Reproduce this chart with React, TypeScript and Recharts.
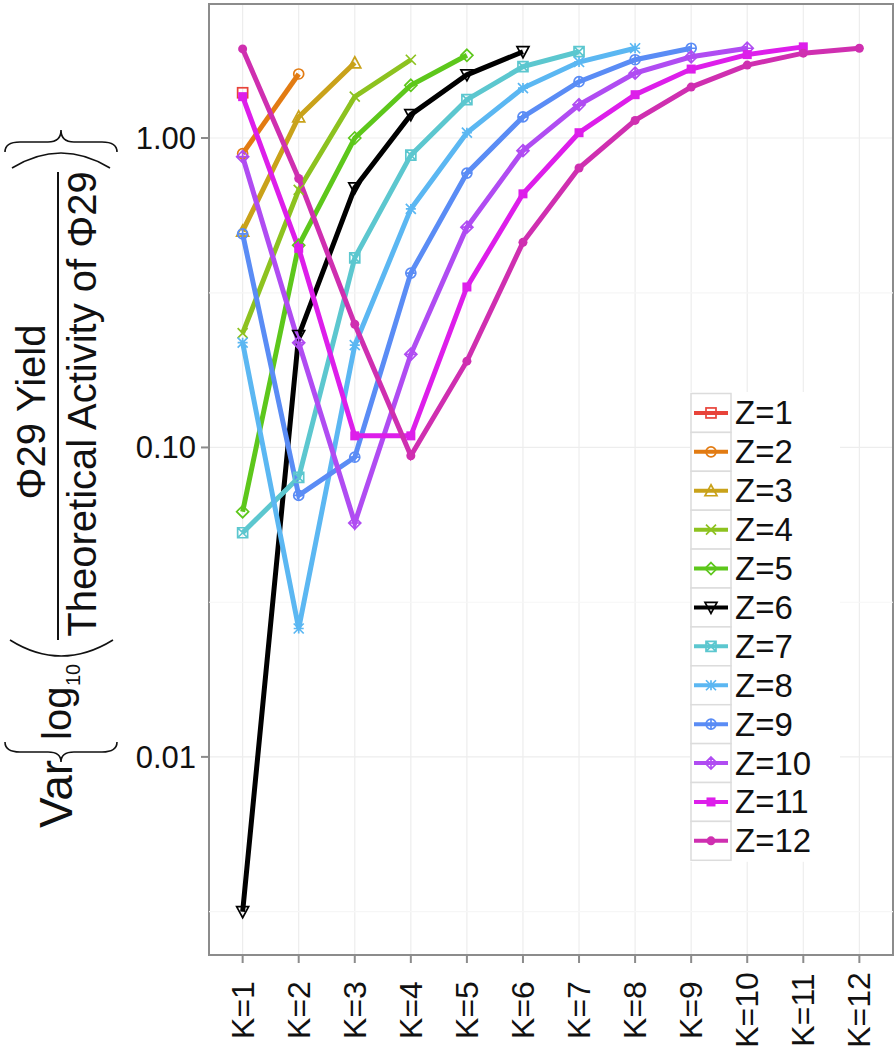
import {
  CartesianGrid,
  Legend,
  Line,
  LineChart,
  ReferenceArea,
  ReferenceLine,
  XAxis,
  YAxis,
} from "recharts";

const kValues = [1, 2, 3, 4, 5, 6, 7, 8, 9, 10, 11, 12];
const zNames = ["Z=1", "Z=2", "Z=3", "Z=4", "Z=5", "Z=6", "Z=7", "Z=8", "Z=9", "Z=10", "Z=11", "Z=12"];

// values by K=1..Z for each Z
const z1 = [1.4];
const z2 = [0.89, 1.61];
const z3 = [0.5, 1.17, 1.75];
const z4 = [0.234, 0.68, 1.36, 1.79];
const z5 = [0.062, 0.45, 1.0, 1.48, 1.85];
const z6 = [0.00316, 0.23, 0.69, 1.19, 1.6, 1.9];
const z7 = [0.053, 0.08, 0.41, 0.88, 1.33, 1.7, 1.9];
const z8 = [0.218, 0.026, 0.214, 0.59, 1.04, 1.45, 1.76, 1.95];
const z9 = [0.49, 0.07, 0.093, 0.366, 0.77, 1.17, 1.52, 1.79, 1.95];
const z10 = [0.87, 0.218, 0.057, 0.2, 0.515, 0.91, 1.28, 1.62, 1.83, 1.95];
const z11 = [1.36, 0.44, 0.109, 0.109, 0.33, 0.66, 1.04, 1.38, 1.67, 1.86, 1.97];
const z12 = [1.94, 0.74, 0.25, 0.094, 0.19, 0.46, 0.8, 1.14, 1.46, 1.72, 1.88, 1.95];
const series = [z1, z2, z3, z4, z5, z6, z7, z8, z9, z10, z11, z12];

const colors = [
  "#e8433a", "#e27b12", "#c9a21a", "#8dc21f", "#5dc71b", "#000000",
  "#5cc7cf", "#5bb7f2", "#5a8cf5", "#b04cf2", "#dd1eea", "#cf2fb0",
];
const shapes = [
  "square", "circle", "triangle", "cross", "diamond", "triangleDown",
  "squareCross", "star", "circlePlus", "diamondPlus", "squareFilled", "circleFilled",
];

const yTicks = [0.01, 0.1, 1];
const yMinor = [0.00316, 0.0316, 0.316];
const yDomain = [0.00229, 2.71];
const xDomain = [0.4, 12.6];

const font = "'Liberation Sans', Arial, sans-serif";
const ink = "#111";

const rows = kValues.map((k, i) => {
  const r: Record<string, number> = { k };
  series.forEach((s, j) => {
    if (i < s.length) r[zNames[j]] = s[i];
  });
  return r;
});

function Marker({ shape, x, y, color }: { shape: string; x: number; y: number; color: string }) {
  const r = 5;
  const p = { stroke: color, strokeWidth: 1.7, fill: "none" };
  switch (shape) {
    case "square":
      return <rect x={x - r} y={y - r} width={2 * r} height={2 * r} {...p} />;
    case "circle":
      return <circle cx={x} cy={y} r={r} {...p} />;
    case "triangle":
      return <path d={`M${x},${y - r - 1}L${x + r + 1},${y + r}L${x - r - 1},${y + r}Z`} {...p} />;
    case "triangleDown":
      return <path d={`M${x},${y + r + 1}L${x + r + 1},${y - r}L${x - r - 1},${y - r}Z`} {...p} />;
    case "cross":
      return <path d={`M${x - r},${y - r}L${x + r},${y + r}M${x - r},${y + r}L${x + r},${y - r}`} {...p} />;
    case "diamond":
      return <path d={`M${x},${y - r - 1}L${x + r + 1},${y}L${x},${y + r + 1}L${x - r - 1},${y}Z`} {...p} />;
    case "squareCross":
      return (
        <path
          d={`M${x - r},${y - r}h${2 * r}v${2 * r}h${-2 * r}ZM${x - r},${y - r}L${x + r},${y + r}M${x - r},${y + r}L${x + r},${y - r}`}
          {...p}
        />
      );
    case "star":
      return (
        <path
          d={`M${x - r},${y}L${x + r},${y}M${x},${y - r}L${x},${y + r}M${x - r},${y - r}L${x + r},${y + r}M${x - r},${y + r}L${x + r},${y - r}`}
          {...p}
        />
      );
    case "circlePlus":
      return (
        <g {...p}>
          <circle cx={x} cy={y} r={r} />
          <path d={`M${x - r},${y}L${x + r},${y}M${x},${y - r}L${x},${y + r}`} />
        </g>
      );
    case "diamondPlus":
      return (
        <path
          d={`M${x},${y - r - 1}L${x + r + 1},${y}L${x},${y + r + 1}L${x - r - 1},${y}ZM${x - r},${y}L${x + r},${y}M${x},${y - r}L${x},${y + r}`}
          {...p}
        />
      );
    case "squareFilled":
      return <rect x={x - r + 0.5} y={y - r + 0.5} width={2 * r - 1} height={2 * r - 1} fill={color} />;
    default:
      return <circle cx={x} cy={y} r={r - 0.5} fill={color} />;
  }
}

function XTick({ x, y, payload }: any) {
  const cy = y + 45;
  return (
    <text
      x={x}
      y={cy}
      transform={`rotate(-90, ${x}, ${cy})`}
      textAnchor="middle"
      dominantBaseline="central"
      fontSize={32}
      fontFamily={font}
      fill={ink}
    >
      {`K=${payload.value}`}
    </text>
  );
}

// Var{ log10( Φ29 Yield / Theoretical Activity of Φ29 ) }
function YTitle() {
  const st = { stroke: ink, strokeWidth: 1.6, fill: "none" };
  return (
    <g fontFamily={font} fill={ink}>
      <g transform="rotate(-90)">
        <text x={-828} y={72} fontSize={46}>Var</text>
        <text x={-740} y={71} fontSize={40}>log</text>
        <text x={-686} y={80} fontSize={20}>10</text>
        <text x={-412} y={45} fontSize={40} textAnchor="middle">Φ29 Yield</text>
        <text x={-404} y={96} fontSize={40} textAnchor="middle">Theoretical Activity of Φ29</text>
      </g>
      <line x1={58} x2={58} y1={172} y2={640} stroke={ink} strokeWidth={2} />
      <path d="M5,742 Q5,752 20,752 L48,752 Q61,752 61,762 Q61,752 74,752 L102,752 Q117,752 117,742" {...st} />
      <path d="M10,640 Q61,672 113,640" {...st} />
      <path d="M12,168 Q61,138 110,168" {...st} />
      <path d="M5,152 Q5,142 20,142 L48,142 Q61,142 61,130 Q61,142 74,142 L102,142 Q117,142 117,152" {...st} />
    </g>
  );
}

const rowH = 38.9;

function LegendBox() {
  return (
    <svg width={150} height={12 * rowH + 3} style={{ display: "block" }}>
      <rect x={0} y={0} width={150} height={12 * rowH + 3} fill="#fff" />
      {zNames.map((n, i) => {
        const cy = 1.5 + i * rowH + rowH / 2;
        return (
          <g key={n}>
            <rect x={1} y={1.5 + i * rowH} width={40} height={rowH} fill="#fff" stroke="#dcdcdc" strokeWidth={1.5} />
            <line x1={4} x2={38} y1={cy} y2={cy} stroke={colors[i]} strokeWidth={4} />
            <Marker shape={shapes[i]} x={21} y={cy} color={colors[i]} />
            <text x={45} y={cy} dominantBaseline="central" fontSize={33} fontFamily={font} fill={ink}>
              {n}
            </text>
          </g>
        );
      })}
    </svg>
  );
}

export default function App() {
  return (
    <div style={{ position: "absolute", left: 0, top: 0, background: "#fff" }}>
      <LineChart width={896} height={1050} data={rows} margin={{ top: 4, right: 3, left: 0, bottom: 0 }}>
        <CartesianGrid stroke="#ededed" strokeWidth={1.2} />
        {yMinor.map((v) => (
          <ReferenceLine key={v} y={v} stroke="#f6f6f6" strokeWidth={1.2} />
        ))}
        <ReferenceArea
          x1={xDomain[0]}
          x2={xDomain[1]}
          y1={yDomain[0]}
          y2={yDomain[1]}
          fill="none"
          stroke="#8c8c8c"
          strokeWidth={2}
          fillOpacity={0}
        />
        <XAxis
          type="number"
          dataKey="k"
          domain={xDomain}
          ticks={kValues}
          interval={0}
          allowDataOverflow
          height={95}
          tickSize={8}
          tickMargin={2}
          axisLine={false}
          tickLine={{ stroke: "#8c8c8c", strokeWidth: 2 }}
          tick={<XTick />}
        />
        <YAxis
          type="number"
          scale="log"
          domain={yDomain}
          ticks={yTicks}
          allowDataOverflow
          width={209}
          tickSize={8}
          tickMargin={5}
          axisLine={false}
          tickLine={{ stroke: "#8c8c8c", strokeWidth: 2 }}
          tickFormatter={(v: number) => v.toFixed(2)}
          tick={{ fontSize: 31, fill: ink, fontFamily: font }}
          label={<YTitle />}
        />
        <Legend
          layout="vertical"
          align="center"
          verticalAlign="middle"
          content={() => <LegendBox />}
          wrapperStyle={{ position: "absolute", left: 690, top: 392, width: 150 }}
        />
        {zNames.map((n, i) => (
          <Line
            key={n}
            dataKey={n}
            stroke={colors[i]}
            strokeWidth={5}
            isAnimationActive={false}
            activeDot={false}
            dot={(p: any) =>
              p.value == null || p.cy == null ? (
                <g key={`${n}-${p.index}`} />
              ) : (
                <g key={`${n}-${p.index}`}>
                  <Marker shape={shapes[i]} x={p.cx} y={p.cy} color={colors[i]} />
                </g>
              )
            }
          />
        ))}
      </LineChart>
    </div>
  );
}
